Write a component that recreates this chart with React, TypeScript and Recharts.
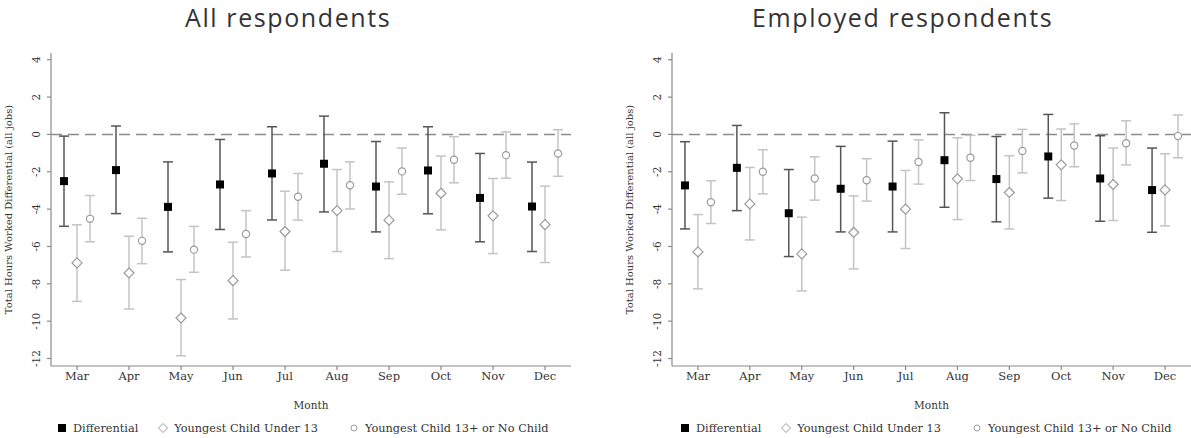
import React from 'react';
import { ScatterChart, Scatter, XAxis, YAxis, ErrorBar, ReferenceLine } from 'recharts';

const months = ['Mar', 'Apr', 'May', 'Jun', 'Jul', 'Aug', 'Sep', 'Oct', 'Nov', 'Dec'];
const monthNums = [3, 4, 5, 6, 7, 8, 9, 10, 11, 12];
const yTicks = [4, 2, 0, -2, -4, -6, -8, -10, -12];

const panelTitles = ['All respondents', 'Employed respondents'];
const seriesNames = ['Differential', 'Youngest Child Under 13', 'Youngest Child 13+ or No Child'];
const yLabel = 'Total Hours Worked Differential (all jobs)';
const xLabel = 'Month';

// All respondents
const allDiff = [-2.50, -1.91, -3.88, -2.68, -2.09, -1.57, -2.79, -1.93, -3.40, -3.86];
const allDiffLow = [-4.92, -4.24, -6.29, -5.09, -4.58, -4.15, -5.22, -4.25, -5.75, -6.27];
const allDiffHigh = [-0.09, 0.45, -1.47, -0.27, 0.41, 0.98, -0.38, 0.41, -1.02, -1.48];
const allU13 = [-6.88, -7.42, -9.83, -7.83, -5.20, -4.08, -4.59, -3.15, -4.36, -4.83];
const allU13Low = [-8.94, -9.35, -11.85, -9.88, -7.27, -6.27, -6.65, -5.11, -6.38, -6.86];
const allU13High = [-4.84, -5.45, -7.77, -5.77, -3.04, -1.88, -2.54, -1.16, -2.36, -2.77];
const allO13 = [-4.52, -5.70, -6.17, -5.33, -3.34, -2.72, -1.98, -1.36, -1.11, -1.02];
const allO13Low = [-5.75, -6.92, -7.38, -6.56, -4.59, -3.99, -3.20, -2.59, -2.34, -2.24];
const allO13High = [-3.27, -4.49, -4.92, -4.08, -2.09, -1.47, -0.73, -0.12, 0.13, 0.25];

// Employed respondents
const empDiff = [-2.73, -1.79, -4.22, -2.91, -2.79, -1.38, -2.39, -1.18, -2.36, -2.98];
const empDiffLow = [-5.06, -4.08, -6.54, -5.22, -5.22, -3.90, -4.68, -3.41, -4.65, -5.24];
const empDiffHigh = [-0.39, 0.48, -1.88, -0.64, -0.36, 1.16, -0.11, 1.07, -0.07, -0.73];
const empU13 = [-6.29, -3.72, -6.40, -5.25, -4.00, -2.38, -3.11, -1.63, -2.68, -2.97];
const empU13Low = [-8.27, -5.65, -8.38, -7.20, -6.11, -4.56, -5.06, -3.54, -4.61, -4.90];
const empU13High = [-4.29, -1.77, -4.43, -3.29, -1.93, -0.18, -1.14, 0.29, -0.73, -1.04];
const empO13 = [-3.63, -2.00, -2.36, -2.45, -1.48, -1.25, -0.89, -0.59, -0.47, -0.09];
const empO13Low = [-4.77, -3.18, -3.52, -3.57, -2.66, -2.47, -2.06, -1.73, -1.63, -1.25];
const empO13High = [-2.48, -0.82, -1.20, -1.30, -0.29, -0.05, 0.27, 0.57, 0.73, 1.04];

const SERIF = '"DejaVu Serif", serif';
const AXIS = '#8a8a8a';

function build(vals: number[], lows: number[], highs: number[], offset: number) {
  return monthNums.map((m, i) => ({
    x: m + offset,
    y: vals[i],
    err: [vals[i] - lows[i], highs[i] - vals[i]],
  }));
}

const SquareShape = (p: any) => (
  <rect x={p.cx - 4} y={p.cy - 4} width={8} height={8} fill="#000" />
);
const DiamondShape = (p: any) => (
  <path
    d={`M${p.cx},${p.cy - 5} L${p.cx + 5},${p.cy} L${p.cx},${p.cy + 5} L${p.cx - 5},${p.cy} Z`}
    fill="#fff"
    stroke="#9a9a9a"
    strokeWidth={1.2}
  />
);
const CircleShape = (p: any) => (
  <circle cx={p.cx} cy={p.cy} r={3.6} fill="#fff" stroke="#9a9a9a" strokeWidth={1.2} />
);

const YTick = (p: any) => {
  const cx = p.x - 9;
  return (
    <text
      x={cx}
      y={p.y}
      transform={`rotate(-90 ${cx} ${p.y})`}
      textAnchor="middle"
      dominantBaseline="central"
      fontFamily={SERIF}
      fontSize={10.5}
      fill="#333"
    >
      {p.payload.value}
    </text>
  );
};

const YLabel = (p: any) => {
  const vb = p.viewBox || { x: 0, y: 0, width: 0, height: 0 };
  const cx = vb.x + 8;
  const cy = vb.y + vb.height / 2;
  return (
    <text
      x={cx}
      y={cy}
      transform={`rotate(-90 ${cx} ${cy})`}
      textAnchor="middle"
      dominantBaseline="central"
      fontFamily={SERIF}
      fontSize={10}
      fill="#333"
    >
      {yLabel}
    </text>
  );
};

function Panel(props: {
  diff: any[];
  u13: any[];
  o13: any[];
  marginLeft: number;
  marginRight: number;
}) {
  return (
    <ScatterChart
      width={595}
      height={438}
      margin={{ top: 53, right: props.marginRight, bottom: 24, left: props.marginLeft }}
    >
      <XAxis
        type="number"
        dataKey="x"
        domain={[2.5, 12.5]}
        ticks={monthNums}
        allowDataOverflow
        tickFormatter={(v: number) => months[monthNums.indexOf(v)]}
        tick={{ fontFamily: SERIF, fontSize: 11.5, fill: '#333' }}
        stroke={AXIS}
        strokeWidth={1.2}
        tickSize={4}
        height={48}
        label={{ value: xLabel, position: 'insideBottom', offset: 5, fontFamily: SERIF, fontSize: 10.5, fill: '#333' }}
      />
      <YAxis
        type="number"
        dataKey="y"
        domain={[-12.4, 4.36]}
        ticks={yTicks}
        allowDataOverflow
        tick={<YTick />}
        stroke={AXIS}
        strokeWidth={1.2}
        tickSize={4}
        width={51}
        label={<YLabel />}
      />
      <ReferenceLine y={0} stroke="#8c8c8c" strokeWidth={1.5} strokeDasharray="11 6" />
      <Scatter data={props.u13} shape={DiamondShape} isAnimationActive={false}>
        <ErrorBar dataKey="err" direction="y" width={5} stroke="#c4c4c4" strokeWidth={1.5} />
      </Scatter>
      <Scatter data={props.o13} shape={CircleShape} isAnimationActive={false}>
        <ErrorBar dataKey="err" direction="y" width={5} stroke="#c4c4c4" strokeWidth={1.5} />
      </Scatter>
      <Scatter data={props.diff} shape={SquareShape} isAnimationActive={false}>
        <ErrorBar dataKey="err" direction="y" width={5} stroke="#555" strokeWidth={1.5} />
      </Scatter>
    </ScatterChart>
  );
}

function LegendRow(props: { left: number }) {
  const item = (icon: React.ReactNode, text: string, gap: number) => (
    <span style={{ display: 'inline-flex', alignItems: 'center', marginRight: gap }}>
      <svg width={12} height={12} style={{ marginRight: 5 }}>
        {icon}
      </svg>
      <span>{text}</span>
    </span>
  );
  return (
    <div
      style={{
        position: 'absolute',
        left: props.left,
        top: 420,
        fontFamily: SERIF,
        fontSize: 11.3,
        color: '#333',
        whiteSpace: 'nowrap',
        display: 'flex',
        alignItems: 'center',
        height: 16,
      }}
    >
      {item(<rect x={2} y={2} width={8} height={8} fill="#000" />, seriesNames[0], 19)}
      {item(<path d="M6,1.5 L10.5,6 L6,10.5 L1.5,6 Z" fill="#fff" stroke="#9a9a9a" strokeWidth={1} />, seriesNames[1], 30)}
      {item(<circle cx={6} cy={6} r={3} fill="#fff" stroke="#9a9a9a" strokeWidth={1} />, seriesNames[2], 0)}
    </div>
  );
}

const titleStyle: React.CSSProperties = {
  position: 'absolute',
  top: 0,
  fontFamily: '"Open Sans", sans-serif',
  fontSize: 25,
  lineHeight: '35px',
  letterSpacing: 1.6,
  color: '#333',
  whiteSpace: 'nowrap',
};

export default function App() {
  const allDiffData = build(allDiff, allDiffLow, allDiffHigh, -0.25);
  const allU13Data = build(allU13, allU13Low, allU13High, 0);
  const allO13Data = build(allO13, allO13Low, allO13High, 0.25);
  const empDiffData = build(empDiff, empDiffLow, empDiffHigh, -0.25);
  const empU13Data = build(empU13, empU13Low, empU13High, 0);
  const empO13Data = build(empO13, empO13Low, empO13High, 0.25);

  return (
    <div style={{ position: 'fixed', left: 0, top: 0, width: 1191, height: 438, background: '#fff', overflow: 'hidden' }}>
      <div style={{ ...titleStyle, left: 185 }}>{panelTitles[0]}</div>
      <div style={{ ...titleStyle, left: 752 }}>{panelTitles[1]}</div>
      <div style={{ position: 'absolute', left: 0, top: 0 }}>
        <Panel diff={allDiffData} u13={allU13Data} o13={allO13Data} marginLeft={0} marginRight={24} />
      </div>
      <div style={{ position: 'absolute', left: 596, top: 0 }}>
        <Panel diff={empDiffData} u13={empU13Data} o13={empO13Data} marginLeft={25} marginRight={0} />
      </div>
      <LegendRow left={56} />
      <LegendRow left={679} />
    </div>
  );
}
